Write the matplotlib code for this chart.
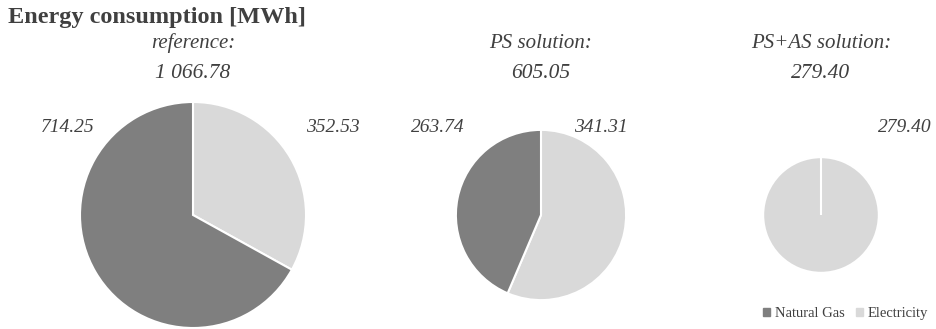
import matplotlib.pyplot as plt
import numpy as np

plt.rcParams["font.family"] = ["Liberation Serif", "DejaVu Serif"]

CATEGORIES = ["Natural Gas", "Electricity"]
SCENARIOS = ["reference:", "PS solution:", "PS+AS solution:"]
TOTAL_LABELS = ["1 066.78", "605.05", "279.40"]
GAS = [714.25, 263.74, 0.0]
ELECTRICITY = [352.53, 341.31, 279.40]

COLORS = ["#7f7f7f", "#d9d9d9"]
TEXT_COLOR = "#404040"

# layout in pixel units (figure is 937 x 329)
W, H = 937, 329
centers_x = [193, 541, 821]
center_y = H - 215
max_radius = 113
# label offsets (dx from centre) for gas / electricity values
gas_label_x = [-125, -103, None]
elec_label_x = [140, 60, 84]
label_y = H - 128

fig = plt.figure(figsize=(9.37, 3.29), dpi=100)
ax = fig.add_axes([0, 0, 1, 1])

totals = [g + e for g, e in zip(GAS, ELECTRICITY)]
for i in range(len(SCENARIOS)):
    r = max_radius * np.sqrt(totals[i] / totals[0])
    # electricity first, clockwise from 12 o'clock; gas drawn last so a
    # zero-size gas slice still leaves its white edge on top
    ax.pie(
        [ELECTRICITY[i], GAS[i]],
        colors=COLORS[::-1],
        startangle=90,
        counterclock=False,
        center=(centers_x[i], center_y),
        radius=r,
        wedgeprops=dict(edgecolor="white", linewidth=1.5),
    )
    ax.text(centers_x[i], H - 43, SCENARIOS[i], ha="center", va="center",
            fontsize=15, style="italic", color=TEXT_COLOR)
    ax.text(centers_x[i], H - 73, TOTAL_LABELS[i], ha="center", va="center",
            fontsize=15.5, style="italic", color=TEXT_COLOR)
    if GAS[i] > 0:
        ax.text(centers_x[i] + gas_label_x[i], label_y, f"{GAS[i]:.2f}",
                ha="center", va="center", fontsize=14, style="italic",
                color=TEXT_COLOR)
    ax.text(centers_x[i] + elec_label_x[i], label_y, f"{ELECTRICITY[i]:.2f}",
            ha="center", va="center", fontsize=14, style="italic",
            color=TEXT_COLOR)

ax.text(8, H - 18, "Energy consumption [MWh]", ha="left", va="center",
        fontsize=17.5, fontweight="bold", color=TEXT_COLOR)

ax.set_xlim(0, W)
ax.set_ylim(0, H)
ax.set_aspect("equal")
ax.axis("off")

handles = [plt.Rectangle((0, 0), 1, 1, color=c) for c in COLORS]
fig.legend(handles, CATEGORIES, loc="lower right", bbox_to_anchor=(1.0, 0.0),
           ncol=2, frameon=False, fontsize=10.5, handlelength=0.5,
           handleheight=0.5, handletextpad=0.3, columnspacing=0.8,
           labelcolor=TEXT_COLOR, borderaxespad=0.2)

fig.savefig("out.png", dpi=100)
